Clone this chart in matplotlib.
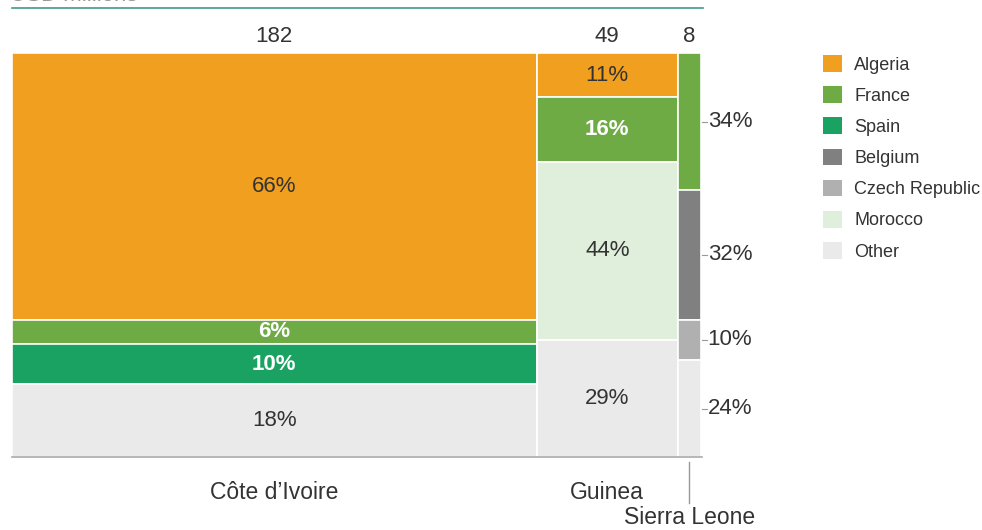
import matplotlib
matplotlib.use("Agg")
import matplotlib.pyplot as plt
from matplotlib.patches import Patch

plt.rcParams['font.family'] = ['Liberation Sans', 'DejaVu Sans']

countries = ["Côte d’Ivoire", "Guinea", "Sierra Leone"]
totals = [182, 49, 8]
partners = ["Algeria", "France", "Spain", "Belgium", "Czech Republic", "Morocco", "Other"]
colors = ["#F19F1E", "#6FAB45", "#1AA263", "#808080", "#B0B0B0", "#DFEFDB", "#EAEAEA"]
shares = {
    "Côte d’Ivoire": {"Algeria": 66, "France": 6, "Spain": 10, "Other": 18},
    "Guinea": {"Algeria": 11, "France": 16, "Morocco": 44, "Other": 29},
    "Sierra Leone": {"France": 34, "Belgium": 32, "Czech Republic": 10, "Other": 24},
}
white_labels = {("Côte d’Ivoire", "France"), ("Côte d’Ivoire", "Spain"), ("Guinea", "France")}

W, H = 982, 530
FS = 16
fig = plt.figure(figsize=(W / 100, H / 100), dpi=100)
ax = fig.add_axes([12 / W, (H - 457) / H, 689 / W, 404 / H])
total_sum = sum(totals)
ax.set_xlim(0, total_sum)
ax.set_ylim(0, 100)
ax.axis('off')

text_color = "#333333"
left = 0
for c, tot in zip(countries, totals):
    top = 100
    center = left + tot / 2
    for p in partners:
        if p not in shares[c]:
            continue
        v = shares[c][p]
        col = colors[partners.index(p)]
        ax.bar(left, v, width=tot, bottom=top - v, align='edge', color=col,
               edgecolor='white', linewidth=1.2)
        ymid = top - v / 2
        if c == "Sierra Leone":
            ax.plot([left + tot + 0.4, left + tot + 2.0], [ymid, ymid], color="#999999",
                    lw=0.8, clip_on=False)
            ax.text(left + tot + 2.3, ymid, f"{v}%", ha='left', va='center', fontsize=FS,
                    color=text_color)
        else:
            white = (c, p) in white_labels
            ax.text(center, ymid, f"{v}%", ha='center', va='center', fontsize=FS,
                    color='white' if white else text_color,
                    fontweight='bold' if white else 'normal')
        top -= v
    # totals
    ax.text(center, 104.2, str(tot), ha='center', va='center', fontsize=FS,
            color=text_color, clip_on=False)
    # category labels
    if c == "Sierra Leone":
        ax.plot([center, center], [-1.2, -11.4], color="#999999", lw=1, clip_on=False)
        ax.text(center, -15.0, c, ha='center', va='center', fontsize=16.5, color=text_color)
    else:
        ax.text(center, -8.9, c, ha='center', va='center', fontsize=16.5, color=text_color)
    left += tot

# baseline
ax.plot([0, total_sum + 0.3], [0, 0], color="#AAAAAA", lw=1.2, clip_on=False)

# top rule and cut-off title
fig.add_artist(plt.Line2D([12 / W, 703 / W], [1 - 7.5 / H, 1 - 7.5 / H],
                          color="#3F9986", lw=1.2))
fig.text(10 / W, 1 - 1 / H, "USD millions", ha='left', va='baseline', fontsize=FS,
         color="#999999")

handles = [Patch(facecolor=col, edgecolor='none') for col in colors]
fig.legend(handles, partners, loc='upper left', bbox_to_anchor=(823 / W, 1 - 55 / H),
           frameon=False, fontsize=13, handlelength=1.05, handleheight=1.05,
           labelspacing=0.70, handletextpad=0.68, borderpad=0, borderaxespad=0,
           labelcolor="#333333")

fig.savefig("out.png", dpi=100)
